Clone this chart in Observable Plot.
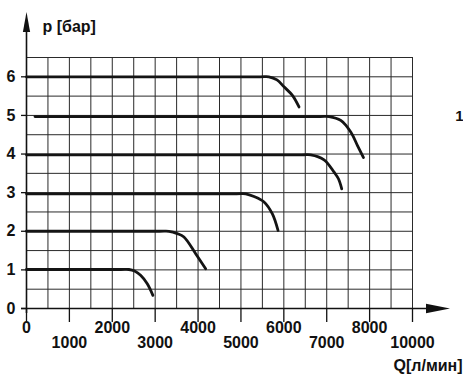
<!DOCTYPE html>
<html><head><meta charset="utf-8">
<script src="https://cdn.jsdelivr.net/npm/d3@7"></script>
<script src="https://cdn.jsdelivr.net/npm/@observablehq/plot@0.6"></script>
<style>body{margin:0;background:#fff;overflow:hidden;}</style>
</head><body><div id="chart"></div>
<script>
// Axis ticks (note: the last tick on the original is labelled 10000)
const xTickValues = [0, 1000, 2000, 3000, 4000, 5000, 6000, 7000, 8000, 9000];
const xTickLabels = ["0", "1000", "2000", "3000", "4000", "5000", "6000", "7000", "8000", "10000"];
const yTickValues = [0, 1, 2, 3, 4, 5, 6];
const yTickLabels = ["0", "1", "2", "3", "4", "5", "6"];
const xGrid = d3.range(0, 9001, 500);
const yGrid = d3.range(0, 6.51, 0.5);

// Pressure levels (bar) and their Q–p characteristic curves
const pressureLevels = [1, 2, 3, 4, 5, 6];
const q1 = [0, 2200, 2388, 2520, 2660, 2816, 2947];
const p1 = [1.01, 1.01, 1.01, 0.97, 0.86, 0.64, 0.34];
const q2 = [0, 3100, 3321, 3516, 3671, 3944, 4177];
const p2 = [2.0, 2.0, 2.0, 1.94, 1.85, 1.42, 1.03];
const q3 = [0, 4900, 5110, 5305, 5538, 5733, 5865];
const p3 = [2.97, 2.97, 2.97, 2.90, 2.76, 2.45, 2.02];
const q4 = [0, 6420, 6627, 6938, 7171, 7273, 7350];
const p4 = [3.98, 3.98, 3.98, 3.85, 3.53, 3.36, 3.10];
const q5 = [198, 6850, 7055, 7327, 7560, 7717, 7857];
const p5 = [4.97, 4.97, 4.97, 4.87, 4.57, 4.22, 3.91];
const q6 = [0, 5450, 5650, 5840, 6004, 6200, 6354];
const p6 = [6.0, 6.0, 6.0, 5.92, 5.74, 5.52, 5.22];

const curves = [[q1, p1], [q2, p2], [q3, p3], [q4, p4], [q5, p5], [q6, p6]];
const data = curves.flatMap(([q, p], k) => q.map((d, i) => ({Q: d, P: p[i], level: pressureLevels[k]})));

const evenTicks = xTickValues.filter((d, i) => i % 2 === 0);
const oddTicks = xTickValues.filter((d, i) => i % 2 === 1);
const labelOf = d => xTickLabels[xTickValues.indexOf(d)];

function axesWithArrows(index, {x, y}) {
  const [xmin, xmax] = x.domain();
  const [ymin, ymax] = y.domain();
  const x0 = x(xmin), x1 = x(xmax), y0 = y(ymin), y1 = y(ymax);
  const g = d3.create("svg:g").attr("fill", "#111").attr("stroke", "#111");
  g.append("line").attr("x1", x0 + 0.5).attr("x2", x0 + 0.5).attr("y1", y0 + 5).attr("y2", y1 - 25).attr("stroke-width", 1.6);
  g.append("path").attr("stroke", "none")
    .attr("d", `M${x0 + 0.5 - 3.6},${y1 - 25} L${x0 + 0.5},${y1 - 45} L${x0 + 0.5 + 3.6},${y1 - 25} Z`);
  g.append("line").attr("x1", x0 - 5).attr("x2", x1 + 15).attr("y1", y0 + 0.5).attr("y2", y0 + 0.5).attr("stroke-width", 1.6);
  g.append("path").attr("stroke", "none")
    .attr("d", `M${x1 + 14},${y0 + 0.5 - 4.7} L${x1 + 38},${y0 + 0.5} L${x1 + 14},${y0 + 0.5 + 4.7} Z`);
  return g.node();
}

const chart = Plot.plot({
  width: 463,
  height: 381,
  marginLeft: 26,
  marginRight: 51,
  marginTop: 57,
  marginBottom: 73,
  x: {domain: [0, 9000]},
  y: {domain: [0, 6.5]},
  style: {fontFamily: "'Liberation Sans', Arial, sans-serif", background: "#fff", color: "#111"},
  marks: [
    Plot.ruleX(xGrid, {y1: 0, y2: 6.5, stroke: "#2a2a2a", strokeWidth: 1}),
    Plot.ruleY(yGrid, {x1: 0, x2: 9000, stroke: "#2a2a2a", strokeWidth: 1}),
    Plot.line(data, {x: "Q", y: "P", z: "level", stroke: "#141414", strokeWidth: 2.8, curve: "catmull-rom"}),
    Plot.axisY({ticks: yTickValues, tickFormat: d => yTickLabels[yTickValues.indexOf(d)], tickSize: 5, tickPadding: 6, fontSize: 16, fontWeight: "bold", label: null, strokeWidth: 1.3}),
    Plot.axisX({ticks: xTickValues, tickSize: 14, tickFormat: () => "", label: null, strokeWidth: 1.3}),
    Plot.text(evenTicks, {x: d => d, y: 0, text: labelOf, dy: 19, fontSize: 16, fontWeight: "bold", fill: "#111"}),
    Plot.text(oddTicks, {x: d => d, y: 0, text: labelOf, dy: 34, fontSize: 16, fontWeight: "bold", fill: "#111"}),
    axesWithArrows,
    Plot.text(["p [бар]"], {frameAnchor: "top-left", dx: 16, dy: -37, textAnchor: "start", fontSize: 16, fontWeight: "bold", fill: "#111"}),
    Plot.text(["Q[л/мин]"], {frameAnchor: "bottom-right", dx: -19, dy: 62, textAnchor: "start", fontSize: 16, fontWeight: "bold", fill: "#111"}),
    Plot.text(["1"], {frameAnchor: "top-right", dx: 47, dy: 53, textAnchor: "middle", fontSize: 15, fontWeight: "bold", fill: "#111"})
  ]
});
document.getElementById("chart").appendChild(chart);
</script>
</body></html>
